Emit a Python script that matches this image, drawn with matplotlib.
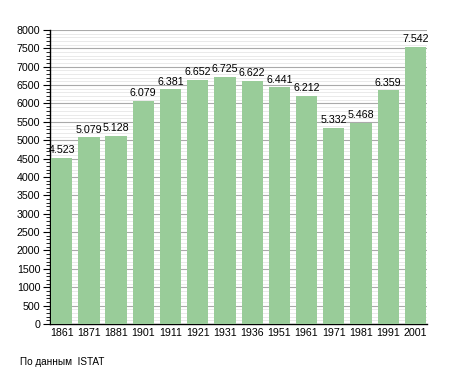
import matplotlib
matplotlib.use("Agg")
import matplotlib.pyplot as plt
from matplotlib.ticker import MultipleLocator

years = ["1861", "1871", "1881", "1901", "1911", "1921", "1931", "1936",
         "1951", "1961", "1971", "1981", "1991", "2001"]
population = [4523, 5079, 5128, 6079, 6381, 6652, 6725, 6622,
              6441, 6212, 5332, 5468, 6359, 7542]
value_labels = ["4.523", "5.079", "5.128", "6.079", "6.381", "6.652", "6.725",
                "6.622", "6.441", "6.212", "5.332", "5.468", "6.359", "7.542"]

plt.rcParams['font.family'] = ['Liberation Sans', 'DejaVu Sans']

fig = plt.figure(figsize=(4.55, 3.73), dpi=100)
ax = fig.add_axes([0.1099, 0.1314, 0.8286, 0.7882])

x = list(range(len(years)))
ax.bar(x, population, width=0.78, color="#99cc99", zorder=3)
for xi, v, lab in zip(x, population, value_labels):
    ax.text(xi, v + 70, lab, ha="center", va="bottom", fontsize=7.7, zorder=4)

ax.set_xlim(-0.43, 13.43)
ax.set_ylim(0, 8000)
ax.yaxis.set_major_locator(MultipleLocator(500))
ax.yaxis.set_minor_locator(MultipleLocator(100))
ax.grid(which="major", axis="y", color="#aaaaaa", linewidth=0.8, zorder=0)
ax.grid(which="minor", axis="y", color="#e6e6e6", linewidth=0.6, zorder=0)
ax.set_axisbelow(True)

ax.set_xticks(x)
ax.set_xticklabels(years)
ax.tick_params(axis="x", length=0, pad=3, labelsize=7.7)
ax.tick_params(axis="y", which="major", length=5, width=0.8, labelsize=7.7, pad=2)
ax.tick_params(axis="y", which="minor", length=3, width=0.6)

for s in ["top", "right"]:
    ax.spines[s].set_visible(False)
ax.spines["left"].set_linewidth(1.0)
ax.spines["bottom"].set_linewidth(1.0)

fig.text(20 / 455, 1 - 362 / 373, "По данным  ISTAT", fontsize=7.2, va="center", ha="left")

fig.savefig("out.png", dpi=100)
